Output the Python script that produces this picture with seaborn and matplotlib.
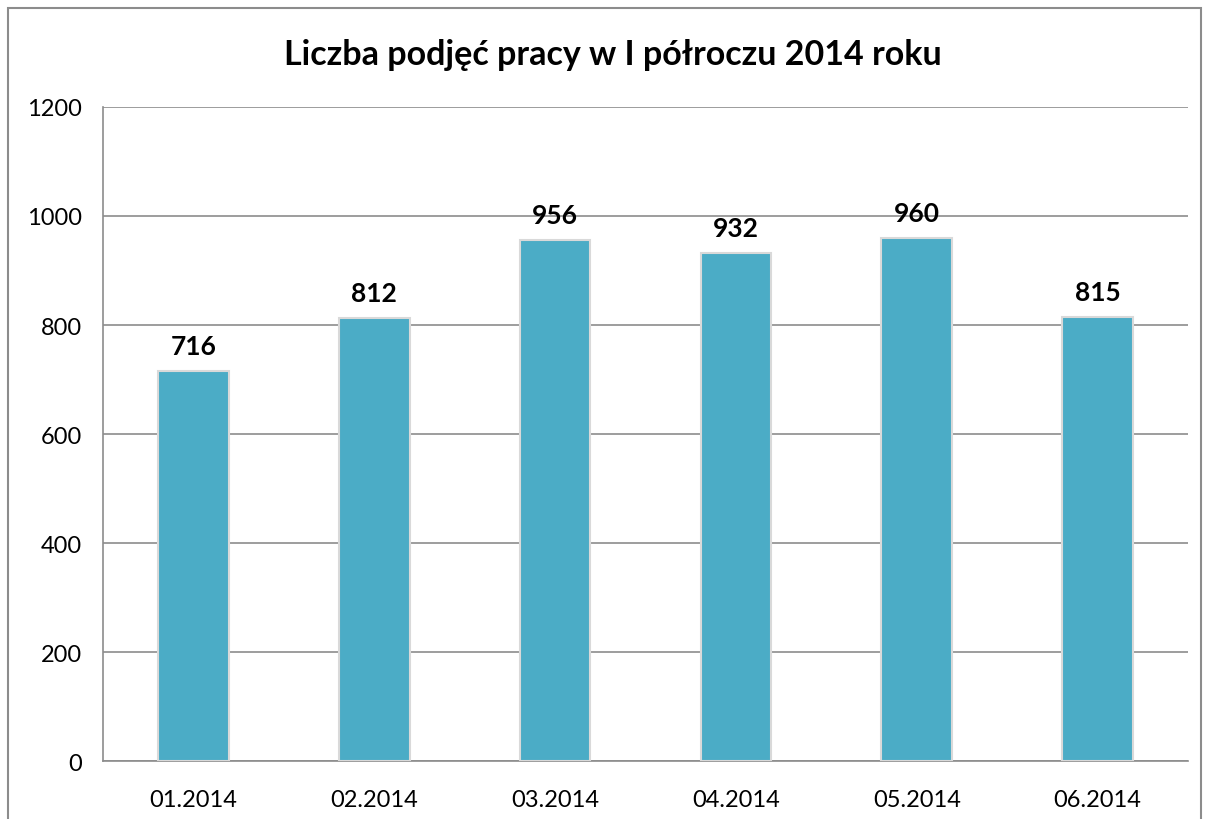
import matplotlib
matplotlib.use("Agg")
import matplotlib.pyplot as plt
import matplotlib.patches as mpatches
import seaborn as sns
import pandas as pd

months = ["01.2014", "02.2014", "03.2014", "04.2014", "05.2014", "06.2014"]
hires = [716, 812, 956, 932, 960, 815]
yticks = [0, 200, 400, 600, 800, 1000, 1200]

sns.set_style("white")
plt.rcParams['font.family'] = ['Lato', 'DejaVu Sans']
plt.rcParams['text.color'] = 'black'
plt.rcParams['xtick.labelcolor'] = 'black'
plt.rcParams['ytick.labelcolor'] = 'black'

df = pd.DataFrame({"month": months, "hires": hires})

fig = plt.figure(figsize=(12.09, 8.2), dpi=100)
ax = fig.add_axes([0.0852, 0.0707, 0.8974, 0.7976])

# outer chart border
fig.patches.append(mpatches.Rectangle((8 / 1209, -0.01), (1201 - 8) / 1209, 1 - 9 / 820 + 0.01,
                                      transform=fig.transFigure, fill=False,
                                      edgecolor="#8c8c8c", linewidth=1.5))

sns.barplot(data=df, x="month", y="hires", color="#4BACC6", saturation=1,
            width=0.39, edgecolor="#d9d9d9", linewidth=1.5, ax=ax, zorder=3)

# value labels above the bars
for i, v in enumerate(hires):
    ax.text(i, v + 46, str(v), ha="center", va="center", fontsize=19,
            fontweight="bold", color="black")

ax.set_xlim(-0.5, len(months) - 0.5)
ax.set_ylim(0, 1200)
ax.set_yticks(yticks)
ax.set_yticklabels([str(t) for t in yticks])
ax.set_xticks(range(len(months)))
ax.set_xticklabels(months)
ax.set_xticks([i - 0.5 for i in range(len(months) + 1)], minor=True)
ax.tick_params(axis="x", which="major", length=0, pad=20, labelsize=17)
ax.tick_params(axis="x", which="minor", length=7, color="#888888", width=1.2)
ax.tick_params(axis="y", length=7, color="#888888", width=1.2, pad=8, labelsize=17)
ax.set_xlabel("")
ax.set_ylabel("")

ax.yaxis.grid(True, color="#8c8c8c", linewidth=1.2, zorder=0)
ax.set_axisbelow(True)
for s in ["top", "right"]:
    ax.spines[s].set_visible(False)
for s in ["left", "bottom"]:
    ax.spines[s].set_color("#8c8c8c")
    ax.spines[s].set_linewidth(1.2)

fig.text(0.507, 1 - 55 / 820, "Liczba podjęć pracy w I półroczu 2014 roku",
         ha="center", va="center", fontsize=24.5, fontweight="bold")

fig.savefig("out.png", dpi=100)
